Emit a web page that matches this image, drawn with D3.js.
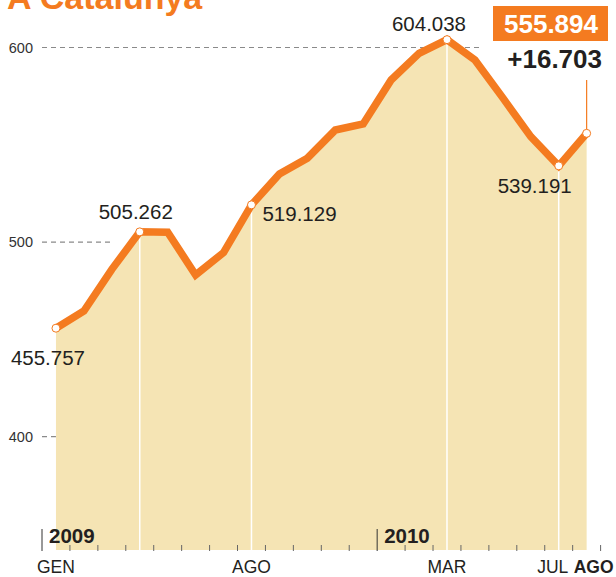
<!DOCTYPE html>
<html>
<head>
<meta charset="utf-8">
<script src="https://cdn.jsdelivr.net/npm/d3@7"></script>
<style>
  body { margin: 0; background: #fff; }
  svg { display: block; font-family: "Liberation Sans", Arial, sans-serif; }
</style>
</head>
<body>
<div id="wrapper"></div>
<script>
// data (thousands)
const months = ["GEN","FEB","MAR","ABR","MAI","JUN","JUL","AGO","SET","OCT","NOV","DES",
                "GEN","FEB","MAR","ABR","MAI","JUN","JUL","AGO"]
const values = [455.757, 464.6, 486.0, 505.262, 505.1, 483.1, 494.6, 519.129, 535.0, 543.1,
                557.6, 560.7, 583.3, 597.0, 604.038, 593.6, 574.1, 554.2, 539.191, 555.894]
const years = [{ label: "2009", index: 0 }, { label: "2010", index: 12 }]
const yTicks = [600, 500, 400]
const shownMonths = [0, 7, 14, 18, 19]
const labelled = [0, 3, 7, 14, 18]
const lastChange = "+16.703"
const title = "A Catalunya"

const dataset = values.map((v, i) => ({ i, month: months[i], value: v }))

function drawChart() {
    const width = 616
    const height = 577
    const orange = "#f47b20"
    const baseY = 550

    const svg = d3.select("#wrapper")
        .append("svg")
        .attr("width", width)
        .attr("height", height)

    // scales
    const xScale = d3.scaleBand()
        .domain(d3.range(values.length))
        .range([42, 600.6])
        .padding(0)
    const xc = i => xScale(i) + xScale.bandwidth() / 2

    const yScale = d3.scaleLinear()
        .domain([400, 600])
        .range([436.7, 47.5])

    const fmt = d3.format(".3f")

    // title (cut at top)
    svg.append("text")
        .attr("x", 7)
        .attr("y", 9)
        .attr("fill", orange)
        .attr("font-size", 34)
        .attr("font-weight", "bold")
        .text(title)

    // y ticks with dashed guides
    const guideEnd = { 600: xc(15) + 8, 500: xc(2), 400: xc(0) }
    yTicks.forEach(t => {
        svg.append("text")
            .attr("x", 33)
            .attr("y", yScale(t) + 5)
            .attr("text-anchor", "end")
            .attr("font-size", 14.5)
            .attr("fill", "#333")
            .text(t)
        svg.append("line")
            .attr("x1", 42)
            .attr("x2", guideEnd[t])
            .attr("y1", yScale(t))
            .attr("y2", yScale(t))
            .attr("stroke", "#8a8a8a")
            .attr("stroke-width", 1.2)
            .attr("stroke-dasharray", "5,4")
    })

    // area
    const areaGenerator = d3.area()
        .x(d => xc(d.i))
        .y0(baseY)
        .y1(d => yScale(d.value))
    svg.append("path")
        .attr("d", areaGenerator(dataset))
        .attr("fill", "#f5e4b4")

    // white drop lines
    labelled.filter(i => i > 0).forEach(i => {
        svg.append("line")
            .attr("x1", xc(i)).attr("x2", xc(i))
            .attr("y1", yScale(values[i]))
            .attr("y2", baseY)
            .attr("stroke", "#fff")
            .attr("stroke-width", 1.5)
    })

    // x ticks
    const ticks = d3.range(values.length + 1)
    const tickX = k => k < values.length ? xScale(k) : xScale(k - 1) + xScale.bandwidth()
    svg.selectAll(".tick")
        .data(ticks)
        .join("line")
        .attr("x1", k => tickX(k))
        .attr("x2", k => tickX(k))
        .attr("y1", k => years.some(y => y.index === k) ? 529 : 545)
        .attr("y2", 551)
        .attr("stroke", k => years.some(y => y.index === k) ? "#333" : "#666")
        .attr("stroke-width", 1)

    years.forEach(y => {
        svg.append("text")
            .attr("x", xScale(y.index) + 7)
            .attr("y", 543)
            .attr("font-size", 20.5)
            .attr("font-weight", "bold")
            .attr("fill", "#231f20")
            .text(y.label)
    })

    shownMonths.forEach(i => {
        const last = i === values.length - 1
        let x = xc(i)
        if (i === 18) x -= 6
        if (last) x += 7
        svg.append("text")
            .attr("x", x)
            .attr("y", 573)
            .attr("text-anchor", "middle")
            .attr("font-size", 17.5)
            .attr("font-weight", last ? "bold" : "normal")
            .attr("fill", "#231f20")
            .text(months[i])
    })

    // line
    const lineGenerator = d3.line()
        .x(d => xc(d.i))
        .y(d => yScale(d.value))
    svg.append("path")
        .attr("d", lineGenerator(dataset))
        .attr("fill", "none")
        .attr("stroke", orange)
        .attr("stroke-width", 7.5)
        .attr("stroke-linejoin", "miter")

    // connector to final value
    const lastI = values.length - 1
    svg.append("line")
        .attr("x1", xc(lastI)).attr("x2", xc(lastI))
        .attr("y1", 80)
        .attr("y2", yScale(values[lastI]))
        .attr("stroke", orange)
        .attr("stroke-width", 1.2)

    // point markers
    svg.selectAll(".pt")
        .data(labelled.concat([lastI]))
        .join("circle")
        .attr("cx", i => xc(i))
        .attr("cy", i => yScale(values[i]))
        .attr("r", 4)
        .attr("fill", "#fff")
        .attr("stroke", orange)
        .attr("stroke-width", 1)

    // value labels
    const labelPos = {
        0: { dx: -8, dy: 37, anchor: "middle" },
        3: { dx: -4, dy: -13, anchor: "middle" },
        7: { dx: 11, dy: 16, anchor: "start" },
        14: { dx: -18, dy: -9, anchor: "middle" },
        18: { dx: -24, dy: 27, anchor: "middle" }
    }
    labelled.forEach(i => {
        const p = labelPos[i]
        svg.append("text")
            .attr("x", xc(i) + p.dx)
            .attr("y", yScale(values[i]) + p.dy)
            .attr("text-anchor", p.anchor)
            .attr("font-size", 20.5)
            .attr("fill", "#231f20")
            .text(fmt(values[i]))
    })

    // final value box
    svg.append("rect")
        .attr("x", 493)
        .attr("y", 6)
        .attr("width", 115)
        .attr("height", 35)
        .attr("fill", orange)
    svg.append("text")
        .attr("x", 551)
        .attr("y", 33)
        .attr("text-anchor", "middle")
        .attr("font-size", 26)
        .attr("font-weight", "bold")
        .attr("fill", "#fff")
        .text(fmt(values[lastI]))
    svg.append("text")
        .attr("x", 602)
        .attr("y", 68)
        .attr("text-anchor", "end")
        .attr("font-size", 26)
        .attr("font-weight", "bold")
        .attr("fill", "#231f20")
        .text(lastChange)
}
drawChart()
</script>
</body>
</html>
